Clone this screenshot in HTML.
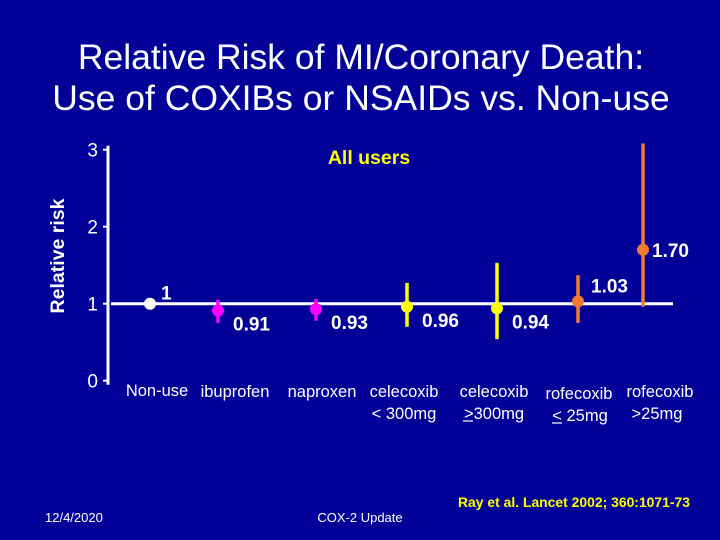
<!DOCTYPE html>
<html><head><meta charset="utf-8"><style>
html,body{margin:0;padding:0;background:#000099;}
svg{display:block;font-family:"Liberation Sans",Arial,sans-serif;}
</style></head><body>
<svg id="chart" width="720" height="540" viewBox="0 0 720 540">
<rect width="720" height="540" fill="#000099"/>
<text x="361" y="69" fill="#fff" font-size="35.5" text-anchor="middle">Relative Risk of MI/Coronary Death:</text>
<text x="361" y="110" fill="#fff" font-size="35.5" text-anchor="middle">Use of COXIBs or NSAIDs vs. Non-use</text>
<text x="0" y="0" transform="translate(64,256) rotate(-90)" fill="#fff" font-size="19.5" font-weight="bold" text-anchor="middle">Relative risk</text>
<text x="369" y="164" fill="#ffff00" font-size="19.5" font-weight="bold" text-anchor="middle">All users</text>
<g id="plot"></g>
<g font-size="16.5" fill="#fff" text-anchor="middle">
<text x="157" y="396">Non-use</text>
<text x="235" y="397">ibuprofen</text>
<text x="322" y="397">naproxen</text>
<text x="404" y="397">celecoxib</text>
<text x="404" y="419">&lt; 300mg</text>
<text x="494" y="397">celecoxib</text>
<text x="494" y="419">&gt;300mg</text>
<text x="579" y="399">rofecoxib</text>
<text x="580" y="421">&lt; 25mg</text>
<text x="660" y="397">rofecoxib</text>
<text x="657" y="419">&gt;25mg</text>
</g>
<line x1="463" y1="421" x2="473" y2="421" stroke="#fff" stroke-width="1.2"/>
<line x1="552" y1="423" x2="562" y2="423" stroke="#fff" stroke-width="1.2"/>
<text x="45" y="522" fill="#fff" font-size="13">12/4/2020</text>
<text x="360" y="522" fill="#fff" font-size="13" text-anchor="middle">COX-2 Update</text>
<text x="574" y="507" fill="#ffff00" font-size="14" font-weight="bold" text-anchor="middle" textLength="232" lengthAdjust="spacingAndGlyphs">Ray et al. Lancet 2002; 360:1071-73</text>
</svg>
<script>
const categories=["Non-use","ibuprofen","naproxen","celecoxib <300mg","celecoxib >=300mg","rofecoxib <=25mg","rofecoxib >25mg"];
const values=[1,0.91,0.93,0.96,0.94,1.03,1.70];
const lower=[null,0.75,0.78,0.70,0.54,0.75,0.96];
const upper=[null,1.05,1.06,1.27,1.53,1.37,3.08];
const labels=["1","0.91","0.93","0.96","0.94","1.03","1.70"];
const colors=["#ffffff","#ff00ff","#ff00ff","#ffff00","#ffff00","#f07a30","#f07a30"];
const yTicks=[0,1,2,3];
const NS="http://www.w3.org/2000/svg";
const xPos=[150,218,316,407,497,578,643];
function yScale(v){return 303.7-(v-1)*77;}
function xScale(i){return xPos[i];}
const g=document.getElementById('plot');
function mk(t,a){const e=document.createElementNS(NS,t);for(const k in a)e.setAttribute(k,a[k]);g.appendChild(e);return e;}
const ax=mk('line',{x1:108,y1:yScale(3)-4,x2:108,y2:yScale(0)+4,stroke:'#fff','stroke-width':3});


yTicks.forEach(t=>{
 const tk=mk('line',{x1:103,y1:yScale(t),x2:108,y2:yScale(t),stroke:'#fff','stroke-width':2});
 
 
 const tx=mk('text',{x:98,y:yScale(t)+7,fill:'#fff','font-size':19,'text-anchor':'end'});
 tx.textContent=t;
 
 
});
const base=mk('line',{x1:111,y1:yScale(1),x2:673,y2:yScale(1),stroke:'#fff','stroke-width':3});


values.forEach((v,i)=>{
 const x=xScale(i);
 if(lower[i]!==null){
  const eb=mk('line',{x1:x,y1:yScale(upper[i]),x2:x,y2:yScale(lower[i]),stroke:colors[i],'stroke-width':3.5});
  
  
 }
 const c=mk('circle',{cx:x,cy:yScale(v),r:6,fill:colors[i]});
 
 
 let lx,ly;
 if(i===0){lx=x+11;ly=yScale(v)-4;}
 else if(v<1){lx=x+15;ly=yScale(v)+20;}
 else if(i===5){lx=x+13;ly=yScale(v)-9;}
 else{lx=x+9;ly=yScale(v)+7;}
 const t=mk('text',{x:lx,y:ly,fill:'#fff','font-size':19,'font-weight':'bold'});
 t.textContent=labels[i];
 
 
});
</script>
</body></html>
